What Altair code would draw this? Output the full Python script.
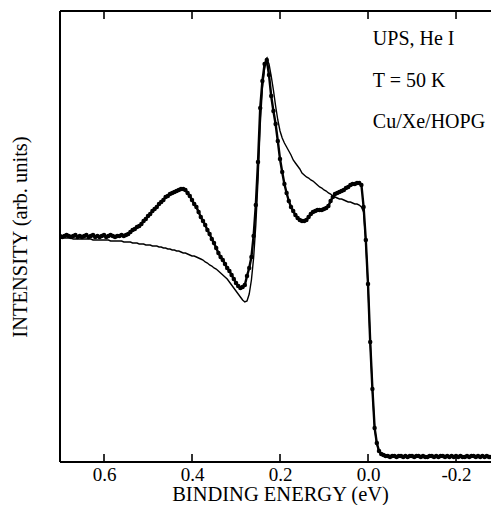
import altair as alt
import pandas as pd

# Binding energy grid (eV)
energy = [
    0.700, 0.695, 0.690, 0.685, 0.680, 0.675, 0.670, 0.665, 0.660, 0.655,
    0.650, 0.645, 0.640, 0.635, 0.630, 0.625, 0.620, 0.615, 0.610, 0.605,
    0.600, 0.595, 0.590, 0.585, 0.580, 0.575, 0.570, 0.565, 0.560, 0.555,
    0.550, 0.545, 0.540, 0.535, 0.530, 0.525, 0.520, 0.515, 0.510, 0.505,
    0.500, 0.495, 0.490, 0.485, 0.480, 0.475, 0.470, 0.465, 0.460, 0.455,
    0.450, 0.445, 0.440, 0.435, 0.430, 0.425, 0.420, 0.415, 0.410, 0.405,
    0.400, 0.395, 0.390, 0.385, 0.380, 0.375, 0.370, 0.365, 0.360, 0.355,
    0.350, 0.345, 0.340, 0.335, 0.330, 0.325, 0.320, 0.315, 0.310, 0.305,
    0.300, 0.295, 0.290, 0.285, 0.280, 0.275, 0.270, 0.265, 0.260, 0.255,
    0.250, 0.245, 0.240, 0.235, 0.230, 0.225, 0.220, 0.215, 0.210, 0.205,
    0.200, 0.195, 0.190, 0.185, 0.180, 0.175, 0.170, 0.165, 0.160, 0.155,
    0.150, 0.145, 0.140, 0.135, 0.130, 0.125, 0.120, 0.115, 0.110, 0.105,
    0.100, 0.095, 0.090, 0.085, 0.080, 0.075, 0.070, 0.065, 0.060, 0.055,
    0.050, 0.045, 0.040, 0.035, 0.030, 0.025, 0.020, 0.015, 0.010, 0.005,
    0.000, -0.005, -0.010, -0.015, -0.020, -0.025, -0.030, -0.035, -0.040, -0.045,
    -0.050, -0.055, -0.060, -0.065, -0.070, -0.075, -0.080, -0.085, -0.090, -0.095,
    -0.100, -0.105, -0.110, -0.115, -0.120, -0.125, -0.130, -0.135, -0.140, -0.145,
    -0.150, -0.155, -0.160, -0.165, -0.170, -0.175, -0.180, -0.185, -0.190, -0.195,
    -0.200, -0.205, -0.210, -0.215, -0.220, -0.225, -0.230, -0.235, -0.240, -0.245,
    -0.250, -0.255, -0.260, -0.265, -0.270, -0.275, -0.280, -0.285, -0.290, -0.295,
]

# Measured spectrum (dots), arb. units
measured = [
    226, 225, 226, 227, 226, 225, 226, 227, 225, 226,
    225, 226, 227, 225, 226, 227, 225, 226, 225, 226,
    227, 225, 226, 227, 226, 225, 226, 226, 227, 226,
    227, 228, 230, 232, 233, 235, 236, 238, 241, 243,
    246, 248, 251, 253, 255, 258, 260, 262, 265, 266,
    268, 269, 270, 271, 272, 273, 273, 272, 269, 266,
    262, 258, 255, 250, 245, 241, 237, 232, 228, 223,
    219, 214, 209, 205, 202, 198, 194, 191, 187, 183,
    179, 176, 174, 175, 177, 186, 194, 205, 226, 257,
    300, 354, 381, 398, 402, 387, 366, 351, 338, 321,
    303, 290, 278, 269, 261, 255, 251, 247, 244, 242,
    241, 241, 242, 245, 248, 250, 251, 252, 252, 252,
    253, 254, 256, 261, 265, 268, 269, 270, 271, 272,
    274, 275, 277, 278, 278, 279, 279, 277, 255, 222,
    178, 120, 73, 34, 19, 11, 8, 7, 6, 6,
    5, 6, 6, 5, 6, 6, 5, 6, 5, 6,
    6, 5, 6, 6, 5, 6, 5, 5, 6, 6,
    5, 6, 5, 6, 6, 5, 6, 5, 6, 5,
    6, 5, 6, 5, 5, 6, 5, 6, 6, 5,
    6, 5, 6, 5, 6, 5, 5, 6, 5, 6,
]

# Model curve (thin line), arb. units
model = [
    224, 224, 224, 224, 224, 224, 223, 223, 223, 223,
    223, 223, 223, 223, 223, 222, 222, 222, 222, 222,
    222, 222, 222, 221, 221, 221, 221, 221, 221, 220,
    220, 220, 220, 219, 219, 219, 218, 218, 218, 217,
    217, 217, 216, 216, 216, 215, 215, 214, 214, 213,
    213, 212, 212, 211, 211, 210, 209, 209, 208, 207,
    206, 206, 205, 204, 203, 202, 200, 199, 197, 196,
    194, 193, 191, 189, 187, 185, 183, 180, 177, 174,
    171, 168, 165, 162, 160, 161, 168, 182, 204, 237,
    282, 337, 374, 394, 403, 398, 386, 372, 356, 342,
    331, 324, 319, 315, 311, 307, 302, 299, 296, 293,
    289, 287, 285, 284, 282, 281, 279, 277, 275, 274,
    272, 271, 269, 268, 266, 265, 264, 263, 263, 262,
    261, 260, 260, 259, 258, 258, 257, 255, 250, 220,
    176, 120, 72, 34, 18, 11, 8, 7, 6, 6,
    6, 6, 6, 6, 6, 6, 6, 6, 6, 6,
    6, 6, 6, 6, 6, 6, 6, 6, 6, 6,
    6, 6, 6, 6, 6, 6, 6, 6, 6, 6,
    6, 6, 6, 6, 6, 6, 6, 6, 6, 6,
    6, 6, 6, 6, 6, 6, 6, 6, 6, 6,
]

tick_values = [0.6, 0.4, 0.2, 0.0, -0.2]

note_labels = ["UPS, He I", "T = 50 K", "Cu/Xe/HOPG"]
note_x = [-0.011, -0.011, -0.011]
note_y = [417, 375, 334]

FONT = "Liberation Serif"
X_TITLE = "BINDING ENERGY (eV)"
Y_TITLE = "INTENSITY (arb. units)"

df = pd.DataFrame({"energy": energy, "measured": measured, "model": model})
ticks_df = pd.DataFrame({"tick": tick_values})
notes_df = pd.DataFrame({"label": note_labels, "x": note_x, "y": note_y})
frame_df = pd.DataFrame({"part": ["frame"]})

PLOT_W = 431
PLOT_H = 451

# the original figure is cropped at its right edge, just past -0.28 eV
xscale = alt.Scale(domain=[0.7, -0.2795], nice=False, zero=False)
yscale = alt.Scale(domain=[0, 451], nice=False, zero=False)

xaxis = alt.Axis(
    title=X_TITLE, values=tick_values, ticks=False, domain=False, grid=False,
    labelExpr="datum.value < 0 ? '-' + format(abs(datum.value), '.1f') : format(datum.value, '.1f')",
    labelFont=FONT, labelFontSize=19, labelColor="black", labelPadding=3,
    labelFlush=False,
    titleFont=FONT, titleFontSize=20.5, titleFontWeight="normal", titleColor="black",
    titleBaseline="alphabetic", titleY=38, titleX=220,
)
yaxis = alt.Axis(
    title=Y_TITLE, labels=False, ticks=False, domain=False, grid=False,
    titleFont=FONT, titleFontSize=20.5, titleFontWeight="normal", titleColor="black",
    titlePadding=30,
)


def X(field):
    return alt.X(field, type="quantitative", scale=xscale, axis=xaxis)


def Y(field):
    return alt.Y(field, type="quantitative", scale=yscale, axis=yaxis)


base = alt.Chart(df)
model_line = base.mark_line(color="black", strokeWidth=1.4, clip=True).encode(x=X("energy"), y=Y("model"))
meas_line = base.mark_line(color="black", strokeWidth=2.4, clip=True).encode(x=X("energy"), y=Y("measured"))
meas_pts = base.mark_circle(color="black", size=20, opacity=1, clip=True).encode(x=X("energy"), y=Y("measured"))

top_ticks = alt.Chart(ticks_df).mark_rule(color="black", strokeWidth=1.6).encode(
    x=X("tick"), y=alt.value(0), y2=alt.value(8))
bottom_ticks = alt.Chart(ticks_df).mark_rule(color="black", strokeWidth=1.6).encode(
    x=X("tick"), y=alt.value(PLOT_H - 8), y2=alt.value(PLOT_H))

frame = alt.Chart(frame_df)
left_edge = frame.mark_rule(color="black", strokeWidth=2).encode(
    x=alt.value(0), y=alt.value(0), y2=alt.value(PLOT_H))
top_edge = frame.mark_rule(color="black", strokeWidth=2).encode(
    x=alt.value(0), x2=alt.value(PLOT_W), y=alt.value(0))
bottom_edge = frame.mark_rule(color="black", strokeWidth=2).encode(
    x=alt.value(0), x2=alt.value(PLOT_W), y=alt.value(PLOT_H))

notes = alt.Chart(notes_df).mark_text(
    align="left", baseline="alphabetic", font=FONT, fontSize=20, color="black"
).encode(x=X("x"), y=Y("y"), text="label:N")

chart = alt.layer(
    model_line, meas_line, meas_pts, top_ticks, bottom_ticks,
    left_edge, top_edge, bottom_edge, notes
).properties(
    width=PLOT_W, height=PLOT_H,
    autosize=alt.AutoSizeParams(type="none"),
    padding={"left": 52, "top": 3, "right": 0, "bottom": 43},
).configure_view(stroke=None)

chart.save("out.html", embed_options={"renderer": "svg", "actions": False})
